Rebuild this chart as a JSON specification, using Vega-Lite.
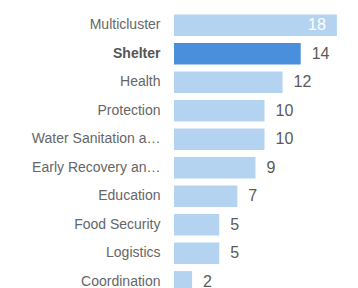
{
  "$schema": "https://vega.github.io/schema/vega-lite/v6.json",
  "width": 181,
  "height": 285,
  "autosize": {"type": "none"},
  "padding": {"left": 174, "top": 11, "right": 3, "bottom": 0},
  "background": "white",
  "config": {"view": {"stroke": null}, "font": "Liberation Sans"},
  "data": {"values": [
    {"cluster": "Multicluster", "count": 18},
    {"cluster": "Shelter", "count": 14},
    {"cluster": "Health", "count": 12},
    {"cluster": "Protection", "count": 10},
    {"cluster": "Water Sanitation and Hygiene", "count": 10},
    {"cluster": "Early Recovery and Livelihoods", "count": 9},
    {"cluster": "Education", "count": 7},
    {"cluster": "Food Security", "count": 5},
    {"cluster": "Logistics", "count": 5},
    {"cluster": "Coordination", "count": 2}
  ]},
  "encoding": {
    "y": {"field": "cluster", "type": "nominal", "sort": null,
      "scale": {"paddingInner": 0.25, "paddingOuter": 0.125},
      "axis": {"title": null, "domain": false, "ticks": false, "labelPadding": 14,
        "labelFontSize": 14, "labelLimit": 134, "labelFont": "Liberation Sans",
        "labelColor": {"condition": {"test": "datum.value == 'Shelter'", "value": "#555555"}, "value": "#666666"},
        "labelFontWeight": {"condition": {"test": "datum.value == 'Shelter'", "value": "bold"}, "value": "normal"}}},
    "x": {"field": "count", "type": "quantitative", "scale": {"domain": [0, 20]}, "axis": null}
  },
  "layer": [
    {"mark": {"type": "bar"},
     "encoding": {"color": {"condition": {"test": "datum.cluster == 'Shelter'", "value": "#4a8fdc"}, "value": "#b4d3f1"}}},
    {"transform": [{"filter": "datum.count < 18"}],
     "mark": {"type": "text", "align": "left", "baseline": "middle", "dx": 11, "fontSize": 16, "color": "#5a5a5a"},
     "encoding": {"text": {"field": "count", "type": "quantitative"}}},
    {"transform": [{"filter": "datum.count >= 18"}],
     "mark": {"type": "text", "align": "right", "baseline": "middle", "dx": -11, "fontSize": 16, "color": "white"},
     "encoding": {"text": {"field": "count", "type": "quantitative"}}}
  ]
}
